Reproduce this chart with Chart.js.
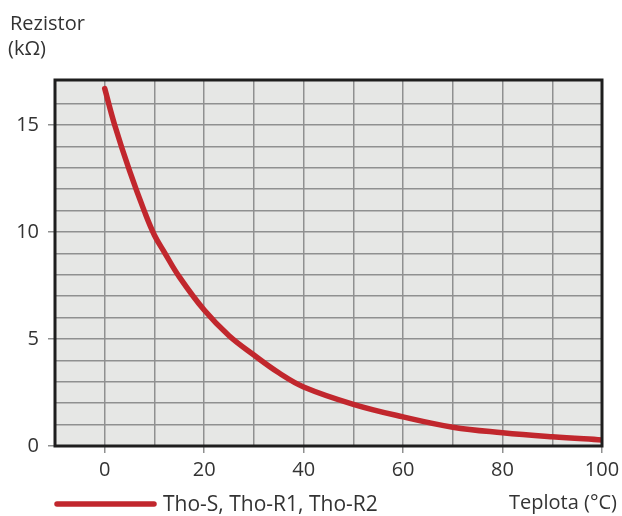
<!DOCTYPE html>
<html>
<head>
<meta charset="utf-8">
<script src="https://cdn.jsdelivr.net/npm/chart.js@4.4.1/dist/chart.umd.min.js"></script>
<style>
  html, body { margin: 0; padding: 0; background: #fff; }
  #wrap { width: 622px; height: 516px; }
</style>
</head>
<body>
<div id="wrap"><canvas id="c" width="622" height="516"></canvas></div>
<script>
  // Hodnoty
  const teploty = [0, 2, 5, 8, 10, 12, 15, 20, 25, 30, 35, 40, 50, 60, 70, 80, 90, 100];
  const odpor = [16.7, 15.0, 12.85, 10.95, 9.85, 9.05, 7.9, 6.35, 5.15, 4.25, 3.42, 2.76, 1.95, 1.36, 0.88, 0.62, 0.43, 0.28];
  const seriesName = 'Tho-S, Tho-R1, Tho-R2';
  const yTitle = ['Rezistor', '(kΩ)'];
  const xTitle = 'Teplota (°C)';
  const xLabels = [0, 20, 40, 60, 80, 100];
  const yLabels = [0, 5, 10, 15];

  const FONT = '"Open Sans", sans-serif';
  const TXT = '#333333';
  const RED = '#c1272d';
  const GRID = '#8f9090';

  // Pozadí plochy, rámeček, popisky os a legenda
  const decor = {
    id: 'decor',
    beforeDraw(chart) {
      const { ctx, chartArea: a } = chart;
      ctx.save();
      ctx.fillStyle = '#e6e7e5';
      ctx.fillRect(a.left, a.top, a.right - a.left, a.bottom - a.top);
      ctx.restore();
    },
    afterDraw(chart) {
      const { ctx, chartArea: a } = chart;
      ctx.save();
      ctx.strokeStyle = '#1e1e1e';
      ctx.lineWidth = 3;
      ctx.strokeRect(a.left, a.top, a.right - a.left, a.bottom - a.top);

      ctx.fillStyle = TXT;
      ctx.font = '20px ' + FONT;
      ctx.textBaseline = 'alphabetic';
      ctx.textAlign = 'left';
      ctx.fillText(yTitle[0], 10, 30);
      ctx.fillText(yTitle[1], 8, 55);
      ctx.textAlign = 'right';
      ctx.fillText(xTitle, 617, 509);

      // legenda
      ctx.strokeStyle = RED;
      ctx.lineWidth = 5.5;
      ctx.lineCap = 'round';
      ctx.beginPath();
      ctx.moveTo(57, 504);
      ctx.lineTo(154, 504);
      ctx.stroke();
      ctx.textAlign = 'left';
      ctx.font = '21px ' + FONT;
      ctx.fillText(seriesName, 163, 511);
      ctx.restore();
    }
  };

  new Chart(document.getElementById('c'), {
    type: 'line',
    data: {
      datasets: [{
        label: seriesName,
        data: teploty.map((t, i) => ({ x: t, y: odpor[i] })),
        borderColor: RED,
        borderWidth: 5.5,
        borderCapStyle: 'round',
        borderJoinStyle: 'round',
        pointRadius: 0,
        tension: 0.4,
        fill: false
      }]
    },
    options: {
      responsive: false,
      animation: false,
      layout: { padding: { top: 80, right: 20, left: 0, bottom: 0 } },
      plugins: { legend: { display: false }, tooltip: { enabled: false } },
      scales: {
        x: {
          type: 'linear',
          min: -10,
          max: 100,
          afterFit: s => { s.height = 70; s.paddingRight = 0; s.paddingLeft = 0; },
          border: { display: false },
          grid: {
            color: GRID,
            lineWidth: 1.5,
            tickLength: 7,
            tickColor: c => xLabels.includes(c.tick.value) ? GRID : 'rgba(0,0,0,0)'
          },
          ticks: {
            stepSize: 10,
            autoSkip: false,
            maxRotation: 0,
            padding: 5,
            color: TXT,
            font: { family: FONT, size: 20 },
            callback: v => xLabels.includes(v) ? String(v) : ''
          }
        },
        y: {
          min: 0,
          max: 17.1,
          afterFit: s => { s.width = 55; s.paddingTop = 0; s.paddingBottom = 0; },
          border: { display: false },
          grid: {
            color: GRID,
            lineWidth: 1.5,
            tickLength: 7,
            tickColor: c => yLabels.includes(c.tick.value) ? GRID : 'rgba(0,0,0,0)'
          },
          ticks: {
            stepSize: 1,
            autoSkip: false,
            padding: 9,
            color: TXT,
            font: { family: FONT, size: 20 },
            callback: v => yLabels.includes(v) ? String(v) : ''
          }
        }
      }
    },
    plugins: [decor]
  });
</script>
</body>
</html>
